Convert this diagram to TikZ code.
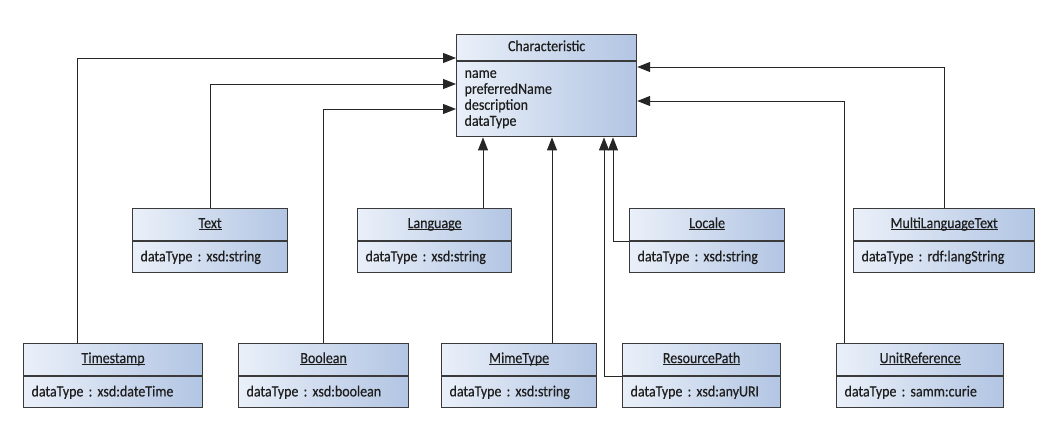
\documentclass[tikz,border=0pt]{standalone}
\usepackage{fontspec}
\setmainfont{Carlito}[FakeStretch=0.9, FakeBold=0.4]
\usepackage{xcolor}
\usetikzlibrary{arrows.meta,positioning,calc}

\definecolor{clsleft}{RGB}{234,240,249}
\definecolor{clsright}{RGB}{178,197,227}
\definecolor{clsline}{RGB}{58,58,58}
\definecolor{clstext}{RGB}{30,30,30}

%% underline at a fixed depth, whatever the descenders
\newcommand{\clsul}[1]{\underline{\smash{#1}}}

%% ── One UML class: header node (name) + attribute node (name-a) ─────────────
%% Usage: \umlclass{name}{x}{y}{width}{title}{attribute}
\newcommand{\umlclass}[6]{%
  \pgfmathsetmacro\clsinner{#4-16}%
  \node[hdr, minimum width=#4pt] (#1) at (#2,#3) {\clsul{#5}};
  \node[attr, minimum width=#4pt, text width=\clsinner pt] (#1-a)
    at (#1.south west) {#6};
}

\begin{document}
\frenchspacing
\begin{tikzpicture}[
    x=1pt, y=-1pt,
    font=\fontsize{15.5}{16}\selectfont,
    >={Triangle[length=13pt,width=10pt]},
    cls/.style={draw=clsline, line width=1.2pt,
                left color=clsleft, right color=clsright,
                anchor=north west, text=clstext},
    hdr/.style={cls, minimum height=32pt, inner sep=0pt,
                text height=11pt, text depth=4pt},
    attr/.style={cls, minimum height=31pt, align=left,
                 inner xsep=8pt, inner ysep=0pt},
    gen/.style={->, line width=1pt, draw=black!85},
]
\useasboundingbox (0,0) rectangle (1062,423);

%% ── Parent class ────────────────────────────────────────────────────────────
\node[hdr, minimum width=180pt, minimum height=26pt] (char) at (456,34)
  {Characteristic};
\node[attr, minimum width=180pt, minimum height=75pt, text width=164pt]
  (char-a) at (char.south west)
  {name\\preferredName\\description\\dataType};

%% ── Upper row ───────────────────────────────────────────────────────────────
\umlclass{txt}{132}{208}{155}{Text}{dataType : xsd:string}
\umlclass{lang}{357}{208}{154}{Language}{dataType : xsd:string}
\umlclass{loc}{629}{208}{155}{Locale}{dataType : xsd:string}
\umlclass{mlt}{853}{208}{181}{MultiLanguageText}{dataType : rdf:langString}

%% ── Lower row ───────────────────────────────────────────────────────────────
\umlclass{ts}{23}{343}{179}{Timestamp}{dataType : xsd:dateTime}
\umlclass{bool}{238}{343}{170}{Boolean}{dataType : xsd:boolean}
\umlclass{mime}{441}{343}{155}{MimeType}{dataType : xsd:string}
\umlclass{rp}{622}{343}{158}{ResourcePath}{dataType : xsd:anyURI}
\umlclass{unit}{836}{343}{167}{UnitReference}{dataType : samm:curie}

%% ── Arrow ends on the parent box ────────────────────────────────────────────
\coordinate (t-ts)   at ($(char.north west)+(0,24)$);
\coordinate (t-txt)  at ($(char.north west)+(0,50)$);
\coordinate (t-bool) at ($(char.north west)+(0,75)$);
\coordinate (t-mlt)  at ($(char.north east)+(0,33)$);
\coordinate (t-unit) at ($(char.north east)+(0,67)$);
\coordinate (t-lang) at ($(char-a.south west)+(27,0)$);
\coordinate (t-mime) at ($(char-a.south west)+(96,0)$);
\coordinate (t-rp)   at ($(char-a.south west)+(148,0)$);
\coordinate (t-loc)  at ($(char-a.south west)+(157,0)$);

%% ── Left side: up, then right into the parent ───────────────────────────────
\draw[gen] ($(ts.north west)+(54,0)$) |- (t-ts);
\draw[gen] (txt.north) |- (t-txt);
\draw[gen] (bool.north) |- (t-bool);

%% ── Bottom side: straight up, or out of the left edge ───────────────────────
\draw[gen] (t-lang |- lang.north) -- (t-lang);
\draw[gen] (t-mime |- mime.north) -- (t-mime);
\draw[gen] (rp-a.north west) -| (t-rp);
\draw[gen] (loc-a.north west) -| (t-loc);

%% ── Right side: up, then left into the parent ───────────────────────────────
\draw[gen] (mlt.north) |- (t-mlt);
\draw[gen] ($(unit.north west)+(8,0)$) |- (t-unit);

\end{tikzpicture}
\end{document}
